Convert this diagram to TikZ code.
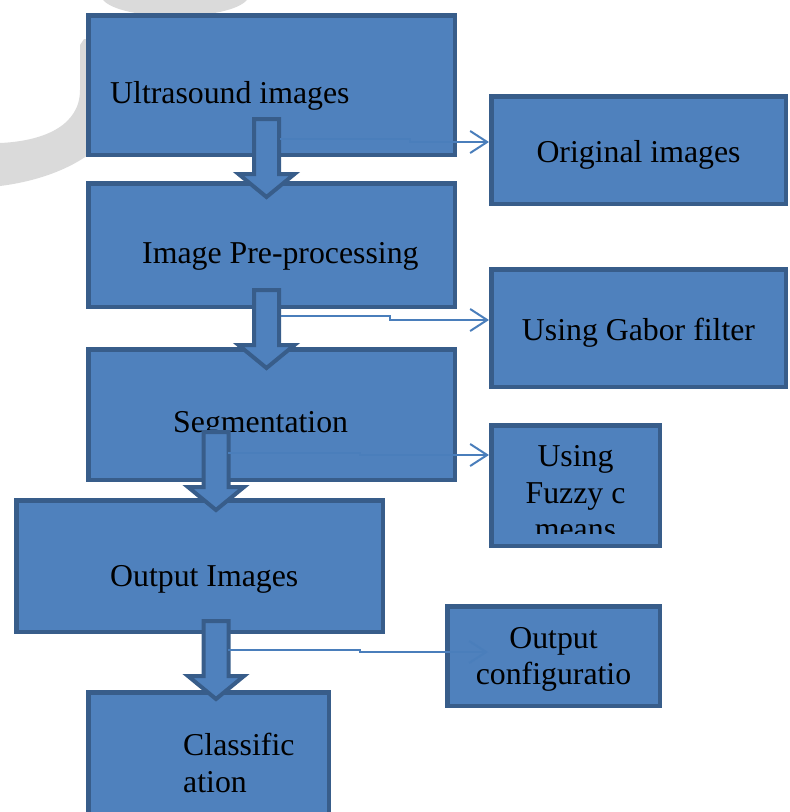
\documentclass[tikz,border=0pt]{standalone}
\usepackage{fontspec}
\setmainfont{Liberation Serif}
\usetikzlibrary{arrows.meta}
\definecolor{boxfill}{HTML}{4F81BD}
\definecolor{boxline}{HTML}{385D8A}
\definecolor{linkblue}{HTML}{4A7EBB}
\definecolor{markgray}{HTML}{DADADA}

\begin{document}
\begin{tikzpicture}[x=1pt,y=-1pt,line join=miter,>={Straight Barb[length=17pt,width=22pt]}]
    \tikzset{stagebox/.style={draw=boxline,fill=boxfill,line width=4.5pt,inner sep=0pt},
             stage text/.style={font=\fontsize{31.8}{36.5}\selectfont,inner sep=0pt},
             flow arrow/.style={draw=boxline,fill=boxfill,line width=4pt},
             link/.style={draw=linkblue,line width=2pt,->}}
    \clip (0,0) rectangle (790,812);
    % faint mark behind the first box
    \fill[markgray] (0,143) .. controls (45,141) and (80,125) .. (80,90) -- (80,45) -- (84,39) -- (100,39)
        -- (100,150) -- (88,155) .. controls (70,168) and (40,181) .. (0,186) -- cycle;
    \fill[markgray] (103,0) .. controls (112,10) and (140,16) .. (175,16) .. controls (210,16) and (238,10) .. (247,0) -- cycle;
    % stages
    \node[stagebox,minimum width=366.5,minimum height=139.5] (us) at (271.5,85) {};
    \node[stagebox,minimum width=366.5,minimum height=123.5] (pre) at (271.5,245) {};
    \node[stagebox,minimum width=366.5,minimum height=130.5] (seg) at (271.5,414.5) {};
    \node[stagebox,minimum width=366.5,minimum height=131.5] (outp) at (199.5,566) {};
    \node[stagebox,minimum width=240.5,minimum height=155.5] (cls) at (208.5,770) {};
    % side notes
    \node[stagebox,minimum width=294.5,minimum height=107.5] (org) at (638.5,150) {};
    \node[stagebox,minimum width=294.5,minimum height=117.5] (gab) at (638.5,328) {};
    \node[stagebox,minimum width=168.5,minimum height=120.5] (fcm) at (575.5,485.5) {};
    \node[stagebox,minimum width=212.5,minimum height=99.5] (cfg) at (553.5,656) {};
    % texts
    \node[stage text,anchor=base west] (usT) at (110,103) {Ultrasound images};
    \node[stage text,anchor=base west] (preT) at (142,263) {Image Pre-processing};
    \node[stage text,anchor=base west] (segT) at (173,432) {Segmentation};
    \node[stage text,anchor=base west] (outT) at (110,586) {Output Images};
    \node[stage text,anchor=north west,align=left] (clsT) at (183,733) {Classific\\ation};
    \node[stage text,anchor=base] (orgT) at (638.5,162) {Original images};
    \node[stage text,anchor=base] (gabT) at (638.5,340) {Using Gabor filter};
    \begin{scope}
        \clip (489,423) rectangle (662,533);
        \node[stage text,anchor=north,align=center] (fcmT) at (575.5,445.5) {Using\\Fuzzy c\\means};
    \end{scope}
    \node[stage text,anchor=north,align=center] (cfgT) at (553.5,627) {Output\\configuratio};
    % block arrows
    \foreach \cx/\ty in {266.5/117,266.5/288,216/430,216/619}
        \draw[flow arrow] (\cx-12.5,\ty+2) -- (\cx+12.5,\ty+2) -- (\cx+12.5,\ty+57) -- (\cx+28,\ty+57)
            -- (\cx,\ty+80) -- (\cx-28,\ty+57) -- (\cx-12.5,\ty+57) -- cycle;
    % links to the notes
    \coordinate (s1) at (280,139);
    \coordinate (s2) at (281,316);
    \coordinate (s3) at (228,453);
    \coordinate (s4) at (228,650);
    \coordinate (e4) at (488,652);
    \draw[link] (s1) -- (410,139) |- (org.west |- 0,142);
    \draw[link] (s2) -- (390,316) |- (gab.west |- 0,320);
    \draw[link] (s3) -- (360,453) |- (fcm.west |- 0,455);
    \draw[link] (s4) -- (360,650) |- (e4);
\end{tikzpicture}
\end{document}
